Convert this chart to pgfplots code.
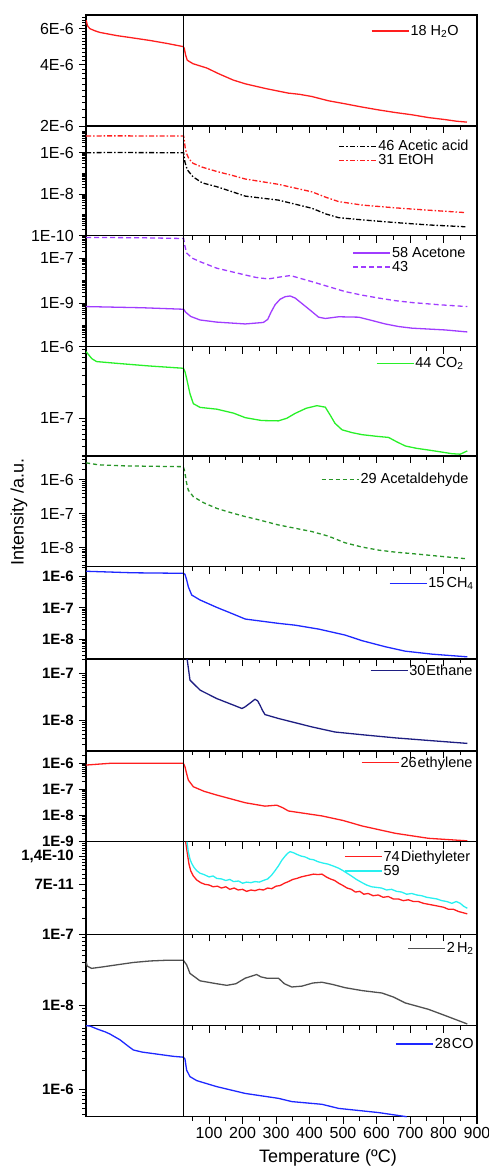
\documentclass[border=0pt]{standalone}
\usepackage{fontspec}
\setmainfont{Liberation Sans}
\usepackage{pgfplots}
\pgfplotsset{compat=1.18}

\definecolor{cred}{RGB}{255,30,30}
\definecolor{cviolet}{RGB}{160,60,255}
\definecolor{cgreen}{RGB}{40,240,40}
\definecolor{cdgreen}{RGB}{40,150,40}
\definecolor{cblue}{RGB}{30,40,255}
\definecolor{cnavy}{RGB}{30,30,130}
\definecolor{ccyan}{RGB}{40,240,240}
\definecolor{cgray}{RGB}{80,80,80}

\newcommand\tkf{\fontsize{16}{18}\selectfont}
\newcommand\tkfb{\fontsize{15}{17}\selectfont\bfseries}
\newcommand\lgf{\fontsize{14.5}{16}\selectfont}
% vertical separator at the start of the heating ramp
\newcommand\vsep{\draw[black, line width=0.8pt] ({axis cs:24.5,1}|-{rel axis cs:0,0}) -- ({axis cs:24.5,1}|-{rel axis cs:0,1});}
% tick marks: left y ticks of a given length, bottom x ticks
\newcommand\ytk[2]{\pgfplotsinvokeforeach{#2}{\draw[black, line width=1pt] ({rel axis cs:0,0}|-{axis cs:0,##1}) -- ++(-#1,0pt);}}
\newcommand\xtk{%
  \pgfplotsinvokeforeach{100,200,...,900}{\draw[black, line width=1pt] ({axis cs:##1,1}|-{rel axis cs:0,0}) -- ++(0pt,-7pt);}%
  \pgfplotsinvokeforeach{50,150,...,850}{\draw[black, line width=1pt] ({axis cs:##1,1}|-{rel axis cs:0,0}) -- ++(0pt,-4pt);}}

\pgfplotsset{
  scale only axis, width=391pt,
  xmin=-267.5, xmax=900,
  clip=false,
  axis line style={line width=1.1pt},
  xtick={100,200,...,900},
  tick align=outside, xtick pos=left, ytick pos=left,
  major tick length=7pt, minor tick length=4pt,
  every tick/.style={black, line width=1pt},
  yticklabel style={font=\tkf, inner sep=1pt, xshift=-4pt},
  legend style={draw=none, fill=none, font=\lgf, anchor=east, inner sep=0pt,
    nodes={inner sep=1.2pt}, legend cell align=left},
  legend image code/.code={\draw[#1, line width=1.3pt] (0pt,0pt) -- (37pt,0pt);},
  bold/.style={yticklabel style={font=\tkfb}},
  dashdot/.style={dash pattern=on 5pt off 2pt on 1.5pt off 2pt},
}

\begin{document}
\begin{tikzpicture}

% 1: water
\begin{axis}[ymode=log, xticklabels={}, at={(0pt,0pt)}, anchor=north west, height=111pt,
  ymin=2e-6, ymax=7e-6, ytick={2e-6,4e-6,6e-6}, yticklabels={2E-6,4E-6,6E-6},
  legend style={at={(0.9565,0.856)}}]
\addplot[cred, line width=1.3pt] coordinates {(-267,6.6e-6) (-263,6.2e-6) (-256,6.0e-6) (-240,5.85e-6) (-226,5.75e-6) (-176,5.55e-6) (-126,5.4e-6) (-76,5.25e-6) (-26,5.08e-6) (23,4.9e-6) (26,4.8e-6) (30,4.45e-6) (35,4.2e-6) (52,4.04e-6) (93,3.85e-6) (130,3.6e-6) (172,3.36e-6) (208,3.22e-6) (270,3.05e-6) (336,2.9e-6) (370,2.86e-6) (407,2.79e-6) (456,2.66e-6) (506,2.57e-6) (555,2.48e-6) (605,2.4e-6) (655,2.33e-6) (706,2.27e-6) (755,2.2e-6) (805,2.15e-6) (840,2.11e-6) (870,2.09e-6)};
\addlegendentry{18 H\textsubscript{2}O}
\vsep \xtk
\ytk{7pt}{2e-6,4e-6,6e-6}
\ytk{4pt}{2.2e-6,2.4e-6,2.6e-6,2.8e-6,3e-6,3.2e-6,3.4e-6,3.6e-6,3.8e-6,4.2e-6,4.4e-6,4.6e-6,4.8e-6,5e-6,5.2e-6,5.4e-6,5.6e-6,5.8e-6,6.2e-6,6.4e-6,6.6e-6,6.8e-6}
\end{axis}

% 2: acetic acid, ethanol
\begin{axis}[ymode=log, xticklabels={}, at={(0pt,-111pt)}, anchor=north west, height=109.7pt,
  ymin=1e-10, ymax=1.94e-5, ytick={1e-10,1e-8,1e-6}, yticklabels={1E-10,1E-8,1E-6},
  legend style={at={(0.982,0.751)}}]
\addplot[black, dashdot, line width=1.3pt] coordinates {(-267,1e-6) (-200,1.02e-6) (24,1e-6) (26,6e-7) (28,3.5e-7) (35,1.5e-7) (52,6.9e-8) (80,3.5e-8) (123,2.3e-8) (170,1.3e-8) (208,8.1e-9) (307,5.2e-9) (407,2.1e-9) (450,1.1e-9) (487,7.4e-10) (557,5.8e-10) (656,4.3e-10) (755,3.3e-10) (865,2.7e-10)};
\addlegendentry{46 Acetic acid}
\addplot[cred, dashdot, line width=1.3pt] coordinates {(-267,6.4e-6) (-200,6.5e-6) (-100,6.45e-6) (24,6.4e-6) (26,4e-6) (29,1.6e-6) (33,9e-7) (40,5e-7) (52,3.1e-7) (80,2e-7) (123,1.25e-7) (170,8e-8) (208,5.4e-8) (307,3.0e-8) (407,1.3e-8) (450,7e-9) (487,4.4e-9) (557,3.0e-9) (656,2.2e-9) (755,1.7e-9) (865,1.3e-9)};
\addlegendentry{31 EtOH}
\vsep \xtk
\ytk{7pt}{1e-10,1e-8,1e-6}
\ytk{4pt}{2e-10,3e-10,4e-10,5e-10,6e-10,7e-10,8e-10,9e-10,1e-9,2e-9,3e-9,4e-9,5e-9,6e-9,7e-9,8e-9,9e-9,2e-8,3e-8,4e-8,5e-8,6e-8,7e-8,8e-8,9e-8,1e-7,2e-7,3e-7,4e-7,5e-7,6e-7,7e-7,8e-7,9e-7,2e-6,3e-6,4e-6,5e-6,6e-6,7e-6,8e-6,9e-6,1e-5}
\end{axis}

% 3: acetone, 43
\begin{axis}[ymode=log, xticklabels={}, at={(0pt,-220.7pt)}, anchor=north west, height=111pt,
  ymin=1.17e-11, ymax=1e-6, ytick={1e-9,1e-7}, yticklabels={1E-9,1E-7},
  legend style={at={(0.974,0.780)}}]
\addplot[cviolet, line width=1.3pt] coordinates {(-267,7.1e-10) (-100,6.3e-10) (24,5.4e-10) (30,4e-10) (45,2.6e-10) (73,1.8e-10) (123,1.45e-10) (208,1.2e-10) (262,1.4e-10) (275,1.9e-10) (285,4e-10) (297,8.5e-10) (312,1.5e-9) (327,1.95e-9) (342,2.1e-9) (357,1.7e-9) (380,9e-10) (405,4.5e-10) (427,2.4e-10) (447,2.1e-10) (487,2.5e-10) (547,2.4e-10) (587,1.7e-10) (626,1.2e-10) (666,9.2e-11) (706,7.8e-11) (805,6.5e-11) (871,5.3e-11)};
\addlegendentry{58 Acetone}
\addplot[cviolet, dash pattern=on 5pt off 3pt, line width=1.3pt] coordinates {(-267,8.4e-7) (-100,8.1e-7) (24,7.5e-7) (27,4e-7) (33,1.7e-7) (50,1e-7) (73,7e-8) (123,3.6e-8) (208,1.8e-8) (240,1.4e-8) (277,1.2e-8) (310,1.45e-8) (343,1.7e-8) (370,1.3e-8) (407,9.1e-9) (456,5.5e-9) (506,3.3e-9) (556,2.3e-9) (606,1.7e-9) (656,1.3e-9) (706,1.07e-9) (790,8.5e-10) (871,7.1e-10)};
\addlegendentry{43}
\vsep \xtk
\ytk{7pt}{1e-9,1e-7}
\ytk{4pt}{2e-11,3e-11,4e-11,5e-11,6e-11,7e-11,8e-11,9e-11,1e-10,2e-10,3e-10,4e-10,5e-10,6e-10,7e-10,8e-10,9e-10,2e-9,3e-9,4e-9,5e-9,6e-9,7e-9,8e-9,9e-9,1e-8,2e-8,3e-8,4e-8,5e-8,6e-8,7e-8,8e-8,9e-8,2e-7,3e-7,4e-7,5e-7,6e-7,7e-7,8e-7,9e-7}
\end{axis}

% 4: CO2
\begin{axis}[ymode=log, xticklabels={}, at={(0pt,-331.7pt)}, anchor=north west, height=109.3pt,
  ymin=2.97e-8, ymax=1e-6, ytick={1e-7,1e-6}, yticklabels={1E-7,1E-6},
  legend style={at={(0.969,0.848)}}]
\addplot[cgreen, line width=1.3pt] coordinates {(-267,8.5e-7) (-250,6.8e-7) (-236,6.2e-7) (-176,5.86e-7) (-76,5.37e-7) (23,5.0e-7) (28,4.5e-7) (33,3.6e-7) (43,2.2e-7) (53,1.6e-7) (73,1.42e-7) (123,1.34e-7) (173,1.18e-7) (208,1.02e-7) (257,9.3e-8) (307,9.2e-8) (332,1.0e-7) (357,1.17e-7) (390,1.38e-7) (422,1.5e-7) (447,1.43e-7) (462,1.1e-7) (476,8.5e-8) (497,6.9e-8) (527,6.3e-8) (557,5.9e-8) (600,5.6e-8) (636,5.4e-8) (660,4.7e-8) (686,4.1e-8) (720,3.8e-8) (755,3.6e-8) (790,3.4e-8) (825,3.2e-8) (850,3.15e-8) (871,3.5e-8)};
\addlegendentry{44 CO\textsubscript{2}}
\vsep \xtk
\ytk{7pt}{1e-7,1e-6}
\ytk{4pt}{3e-8,4e-8,5e-8,6e-8,7e-8,8e-8,9e-8,2e-7,3e-7,4e-7,5e-7,6e-7,7e-7,8e-7,9e-7}
\end{axis}

% 5: acetaldehyde
\begin{axis}[ymode=log, xticklabels={}, at={(0pt,-441pt)}, anchor=north west, height=110.7pt,
  ymin=2.75e-9, ymax=5.1e-6, ytick={1e-8,1e-7,1e-6}, yticklabels={1E-8,1E-7,1E-6},
  legend style={at={(0.982,0.790)}}]
\addplot[cdgreen, dash pattern=on 4pt off 3pt, line width=1.3pt] coordinates {(-267,3.2e-6) (-230,2.8e-6) (-150,2.6e-6) (23,2.47e-6) (26,2.0e-6) (28,1.6e-6) (33,8e-7) (38,5e-7) (53,3.2e-7) (85,2.1e-7) (123,1.45e-7) (170,1.05e-7) (208,8.3e-8) (240,7e-8) (307,4.7e-8) (407,3.0e-8) (456,2.2e-8) (506,1.4e-8) (556,1.05e-8) (606,8.5e-9) (656,7.4e-9) (706,6.7e-9) (805,5.4e-9) (871,4.7e-9)};
\addlegendentry{29 Acetaldehyde}
\vsep \xtk
\ytk{7pt}{1e-8,1e-7,1e-6}
\ytk{4pt}{3e-9,4e-9,5e-9,6e-9,7e-9,8e-9,9e-9,2e-8,3e-8,4e-8,5e-8,6e-8,7e-8,8e-8,9e-8,2e-7,3e-7,4e-7,5e-7,6e-7,7e-7,8e-7,9e-7,2e-6,3e-6,4e-6,5e-6}
\end{axis}

% 6: CH4
\begin{axis}[ymode=log, xticklabels={}, bold, at={(0pt,-551.7pt)}, anchor=north west, height=92.3pt,
  ymin=2.3e-9, ymax=2.1e-6, ytick={1e-8,1e-7,1e-6}, yticklabels={1E-8,1E-7,1E-6},
  legend style={at={(0.995,0.820)}}]
\addplot[cblue, line width=1.3pt] coordinates {(-267,1.5e-6) (-127,1.34e-6) (23,1.29e-6) (28,1.2e-6) (33,8e-7) (38,4.8e-7) (48,2.6e-7) (73,1.8e-7) (123,1.04e-7) (170,6.5e-8) (208,4.4e-8) (307,3.2e-8) (357,2.8e-8) (427,2.1e-8) (506,1.35e-8) (557,8.9e-9) (626,5.7e-9) (686,4.1e-9) (765,3.3e-9) (871,2.7e-9)};
\addlegendentry{15\kern2pt CH\textsubscript{4}}
\vsep \xtk
\ytk{7pt}{1e-8,1e-7,1e-6}
\ytk{4pt}{3e-9,4e-9,5e-9,6e-9,7e-9,8e-9,9e-9,2e-8,3e-8,4e-8,5e-8,6e-8,7e-8,8e-8,9e-8,2e-7,3e-7,4e-7,5e-7,6e-7,7e-7,8e-7,9e-7,2e-6}
\end{axis}

% 7: ethane
\begin{axis}[ymode=log, xticklabels={}, bold, at={(0pt,-644pt)}, anchor=north west, height=92pt,
  ymin=2.2e-9, ymax=2.03e-7, ytick={1e-8,1e-7}, yticklabels={1E-8,1E-7},
  legend style={at={(0.992,0.873)}}]
\addplot[cnavy, line width=1.3pt] coordinates {(34,2.03e-7) (35,1.9e-7) (43,7.2e-8) (73,4.4e-8) (123,2.9e-8) (173,2.1e-8) (198,1.78e-8) (208,1.94e-8) (225,2.4e-8) (237,2.8e-8) (245,2.6e-8) (252,2.1e-8) (260,1.6e-8) (267,1.32e-8) (307,1.09e-8) (407,7.2e-9) (476,5.6e-9) (557,4.9e-9) (656,4.2e-9) (755,3.7e-9) (871,3.2e-9)};
\addlegendentry{30\kern1pt Ethane}
\vsep \xtk
\ytk{7pt}{1e-8,1e-7}
\ytk{4pt}{3e-9,4e-9,5e-9,6e-9,7e-9,8e-9,9e-9,2e-8,3e-8,4e-8,5e-8,6e-8,7e-8,8e-8,9e-8,2e-7}
\end{axis}

% 8: ethylene
\begin{axis}[ymode=log, xticklabels={}, bold, at={(0pt,-736pt)}, anchor=north west, height=90.7pt,
  ymin=1e-9, ymax=2.96e-6, ytick={1e-9,1e-8,1e-7,1e-6}, yticklabels={1E-9,1E-8,1E-7,1E-6},
  legend style={at={(0.992,0.871)}}]
\addplot[cred, line width=1.3pt] coordinates {(-267,8.6e-7) (-196,1e-6) (23,1e-6) (26,8.5e-7) (28,7.4e-7) (33,4e-7) (38,2.3e-7) (53,1.27e-7) (85,8.5e-8) (123,6.1e-8) (170,4.2e-8) (208,3.1e-8) (267,2.3e-8) (302,2.5e-8) (320,2e-8) (337,1.5e-8) (437,9.7e-9) (500,6.5e-9) (557,4e-9) (656,2.1e-9) (755,1.35e-9) (871,1.08e-9)};
\addlegendentry{26\kern1pt ethylene}
\vsep \xtk
\ytk{7pt}{1e-9,1e-8,1e-7,1e-6}
\ytk{4pt}{2e-9,3e-9,4e-9,5e-9,6e-9,7e-9,8e-9,9e-9,2e-8,3e-8,4e-8,5e-8,6e-8,7e-8,8e-8,9e-8,2e-7,3e-7,4e-7,5e-7,6e-7,7e-7,8e-7,9e-7,2e-6}
\end{axis}

% 9: diethyl ether, 59
\begin{axis}[ymode=log, xticklabels={}, bold, at={(0pt,-826.7pt)}, anchor=north west, height=92.6pt,
  ymin=2.06e-11, ymax=1.99e-10, ytick={7e-11,1.4e-10}, yticklabels={7E-11,{1,4E-10}},
  legend style={at={(0.986,0.761)}}]
\addplot[cred, line width=1.3pt] coordinates {(30,1.99e-10) (35,1.5e-10) (40,1.15e-10) (45,9.8e-11) (53,8.6e-11) (63,7.8e-11) (75,7.3e-11) (88,7e-11) (100,6.9e-11) (112,6.6e-11) (125,6.7e-11) (137,6.4e-11) (150,6.6e-11) (162,6.2e-11) (175,6.4e-11) (187,6.1e-11) (200,6.2e-11) (212,5.9e-11) (225,6.1e-11) (237,6.0e-11) (250,6.2e-11) (262,6.1e-11) (275,6.4e-11) (287,6.3e-11) (300,6.7e-11) (312,6.8e-11) (325,7.2e-11) (337,7.5e-11) (350,7.9e-11) (362,8.1e-11) (375,8.4e-11) (387,8.6e-11) (400,8.8e-11) (412,9.0e-11) (425,8.9e-11) (437,9.0e-11) (450,8.4e-11) (462,8.0e-11) (475,7.7e-11) (487,7.2e-11) (500,6.8e-11) (512,6.4e-11) (525,6.2e-11) (537,5.8e-11) (550,5.9e-11) (562,5.5e-11) (575,5.6e-11) (590,5.3e-11) (605,5.4e-11) (620,5.1e-11) (635,5.2e-11) (650,4.9e-11) (665,4.9e-11) (680,4.7e-11) (695,4.8e-11) (710,4.6e-11) (725,4.6e-11) (740,4.4e-11) (755,4.3e-11) (770,4.2e-11) (785,4.1e-11) (800,4.0e-11) (815,3.8e-11) (830,3.8e-11) (845,3.6e-11) (858,3.5e-11) (871,3.4e-11)};
\addlegendentry{74\kern1pt Diethyleter}
\addplot[ccyan, line width=1.3pt] coordinates {(34,1.99e-10) (38,1.55e-10) (43,1.3e-10) (48,1.17e-10) (55,1.06e-10) (63,9.8e-11) (73,9.2e-11) (85,8.9e-11) (100,8.4e-11) (112,8.6e-11) (123,8.1e-11) (137,8e-11) (150,7.7e-11) (162,7.9e-11) (173,7.5e-11) (188,7.6e-11) (200,7.2e-11) (212,7.4e-11) (225,7.3e-11) (237,7.5e-11) (250,7.4e-11) (262,7.7e-11) (275,8.0e-11) (287,8.8e-11) (297,9.8e-11) (307,1.1e-10) (317,1.26e-10) (327,1.4e-10) (335,1.5e-10) (342,1.56e-10) (352,1.52e-10) (362,1.46e-10) (375,1.4e-10) (387,1.37e-10) (400,1.3e-10) (412,1.28e-10) (425,1.22e-10) (440,1.18e-10) (455,1.15e-10) (470,1.1e-10) (487,1.04e-10) (500,9.8e-11) (512,9.2e-11) (525,8.6e-11) (540,7.9e-11) (557,7.3e-11) (570,6.9e-11) (585,6.6e-11) (600,6.5e-11) (615,6.4e-11) (630,6.1e-11) (645,6.2e-11) (660,5.9e-11) (675,5.8e-11) (690,5.5e-11) (705,5.6e-11) (720,5.4e-11) (735,5.3e-11) (750,5.1e-11) (765,5.0e-11) (780,4.9e-11) (795,4.7e-11) (810,4.6e-11) (825,4.4e-11) (838,4.6e-11) (850,4.4e-11) (860,4.1e-11) (871,3.9e-11)};
\addlegendentry{59}
\vsep \xtk
\ytk{7pt}{7e-11,1.4e-10}
\ytk{4pt}{3e-11,4e-11,5e-11,6e-11,8e-11,9e-11,1e-10,1.1e-10,1.2e-10,1.3e-10,1.5e-10,1.6e-10,1.7e-10,1.8e-10,1.9e-10}
\end{axis}

% 10: H2
\begin{axis}[ymode=log, xticklabels={}, bold, at={(0pt,-919.3pt)}, anchor=north west, height=91.4pt,
  ymin=5.1e-9, ymax=1e-7, ytick={1e-8,1e-7}, yticklabels={1E-8,1E-7},
  legend style={at={(0.995,0.847)}}]
\addplot[cgray, line width=1.3pt] coordinates {(-267,4.1e-8) (-264,3.56e-8) (-251,3.3e-8) (-220,3.45e-8) (-176,3.7e-8) (-126,4.0e-8) (-76,4.2e-8) (-26,4.3e-8) (23,4.3e-8) (33,3.7e-8) (43,2.8e-8) (73,2.2e-8) (123,2.0e-8) (153,1.9e-8) (180,2.0e-8) (208,2.4e-8) (242,2.7e-8) (255,2.5e-8) (272,2.4e-8) (307,2.4e-8) (325,2.0e-8) (347,1.8e-8) (377,1.85e-8) (410,2.05e-8) (437,2.1e-8) (470,1.95e-8) (506,1.76e-8) (557,1.6e-8) (616,1.48e-8) (650,1.3e-8) (686,1.07e-8) (755,8.7e-9) (805,7.1e-9) (871,5.4e-9)};
\addlegendentry{2\kern2pt H\textsubscript{2}}
\vsep \xtk
\ytk{7pt}{1e-8,1e-7}
\ytk{4pt}{6e-9,7e-9,8e-9,9e-9,2e-8,3e-8,4e-8,5e-8,6e-8,7e-8,8e-8,9e-8}
\end{axis}

% 11: CO
\begin{axis}[ymode=log, bold, at={(0pt,-1010.7pt)}, anchor=north west, height=91pt,
  ymin=3.7e-7, ymax=1e-5, ytick={1e-6}, yticklabels={1E-6},
  xticklabels={100,200,300,400,500,600,700,800,900}, xticklabel style={font=\tkf},
  legend style={at={(0.995,0.799)}}]
\addplot[cblue, line width=1.3pt] coordinates {(-267,1e-5) (-256,9.9e-6) (-230,8.7e-6) (-210,8.0e-6) (-196,7.4e-6) (-166,6.0e-6) (-140,4.7e-6) (-126,4.15e-6) (-100,3.85e-6) (-76,3.7e-6) (-7,3.3e-6) (23,3.2e-6) (28,3.0e-6) (33,2.0e-6) (43,1.58e-6) (63,1.37e-6) (73,1.32e-6) (123,1.1e-6) (208,8.6e-7) (307,7.2e-7) (347,6.4e-7) (437,5.8e-7) (487,5.0e-7) (606,4.3e-7) (690,3.7e-7)};
\addlegendentry{28\kern1pt CO}
\vsep \xtk
\ytk{7pt}{1e-6}
\ytk{4pt}{4e-7,5e-7,6e-7,7e-7,8e-7,9e-7,2e-6,3e-6,4e-6,5e-6,6e-6,7e-6,8e-6,9e-6}
\end{axis}

\node[rotate=90, font=\fontsize{18}{20}\selectfont] at (-67pt,-497pt) {Intensity /a.u.};
\node[anchor=base, font=\fontsize{18}{20}\selectfont] at (242pt,-1147pt) {Temperature (ºC)};
\pgfresetboundingbox
\path[use as bounding box] (-86pt,15pt) rectangle (403pt,-1152pt);
\end{tikzpicture}
\end{document}
